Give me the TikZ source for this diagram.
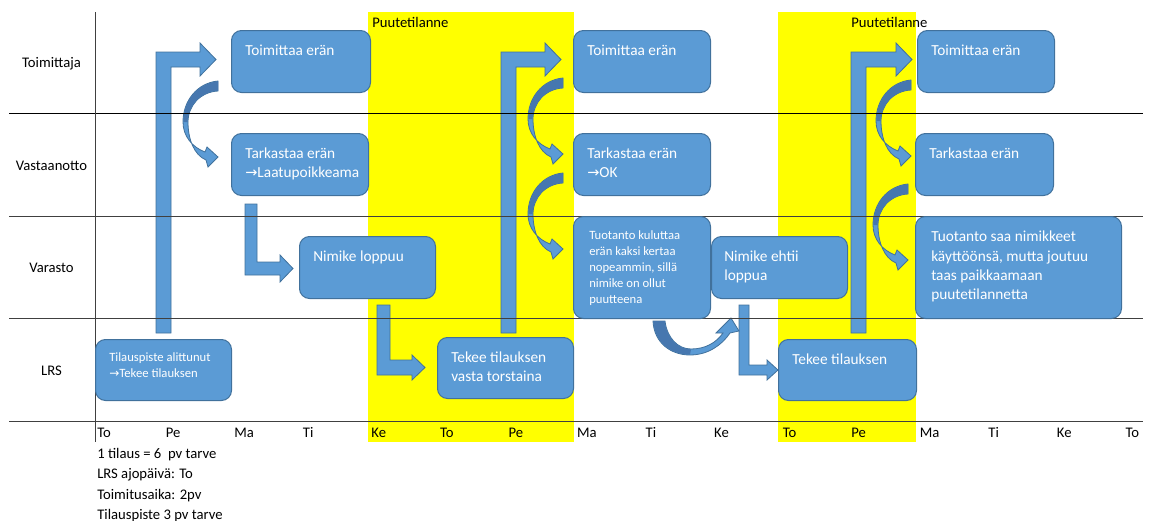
\documentclass[tikz,border=0pt]{standalone}
\usepackage{fontspec}
\setmainfont{Carlito}
\newfontfamily\arrowfont{DejaVu Sans}[Scale=0.95]
\newcommand\ar{{\arrowfont→}}
\definecolor{boxblue}{HTML}{5B9BD5}
\definecolor{boxedge}{HTML}{41719C}
\definecolor{darkarrow}{HTML}{4677AF}
\definecolor{band}{HTML}{FFFF00}
\definecolor{gridgray}{HTML}{404040}
\newcommand\mkbox[5]{\node[boxshape, minimum width={(#4-#2)*0.75pt}, minimum height={(#5-#3)*0.75pt}] (#1) at (#2,#3) {};}
\tikzset{
  boxshape/.style={draw=boxedge, fill=boxblue, line width=0.75pt, rounded corners=7.5pt, anchor=north west, inner sep=0pt},
  blockarrow/.style={draw=boxedge, fill=boxblue, line width=0.6pt, line join=miter},
  darkpart/.style={fill=darkarrow},
  btext/.style={anchor=north west, inner sep=0pt, text=white, align=left, font=\fontsize{11.5}{14.5}\selectfont},
  bsmall/.style={anchor=north west, inner sep=0pt, text=white, align=left, font=\fontsize{9.5}{12}\selectfont},
  rowlbl/.style={anchor=base, inner sep=0pt, font=\fontsize{11}{13}\selectfont},
  daylbl/.style={anchor=base west, inner sep=0pt, font=\fontsize{11}{13}\selectfont},
  notelbl/.style={anchor=base west, inner sep=0pt, font=\fontsize{11}{13}\selectfont},
  gridline/.style={draw=gridgray, line width=0.75pt},
  curvearrow/.pic={
    \path[blockarrow] (0,0) .. controls (-21,2) and (-35,20) .. (-35,41)
       .. controls (-35,55) and (-26,66) .. (-13,71) -- (-11,66) -- (0,76) -- (-10,86) -- (-12,79)
       .. controls (-24,74) and (-30,58) .. (-30,41)
       .. controls (-30,25) and (-18,11) .. (0,10) -- cycle;
    \path[darkpart] (0,0.4) .. controls (-21,2.4) and (-34.6,20) .. (-34.6,41) -- (-30.4,41)
       .. controls (-30.4,25) and (-18,11) .. (0,9.6) -- cycle;
  }
}
\begin{document}
\begin{tikzpicture}[x=0.75pt, y=-0.75pt]
\useasboundingbox (0,0) rectangle (1150,521);
% yellow bands
\fill[band] (368,12) rectangle (574,442);
\fill[band] (778,12) rectangle (916,442);
\node[notelbl] (pt1) at (372,27) {Puutetilanne};
\node[notelbl] (pt2) at (851,27) {Puutetilanne};

% bent arrows LRS -> Toimittaja
\path[blockarrow] (156,333) -- (156,52) -- (200,52) -- (200,43) -- (216,59.5) -- (200,76) -- (200,67) -- (171,67) -- (171,333) -- cycle;
\path[blockarrow] (501,333) -- (501,52) -- (545,52) -- (545,43) -- (561,59.5) -- (545,76) -- (545,67) -- (516,67) -- (516,333) -- cycle;
\path[blockarrow] (851,333) -- (851,52) -- (896,52) -- (896,43) -- (912,59.5) -- (896,76) -- (896,67) -- (866,67) -- (866,333) -- cycle;

% L arrows
\path[blockarrow] (245,204) -- (257,204) -- (257,262) -- (280,262) -- (280,255) -- (293,268.5) -- (280,282) -- (280,275) -- (245,275) -- cycle;
\path[blockarrow] (377,305) -- (390,305) -- (390,360) -- (412,360) -- (412,355) -- (425,367.5) -- (412,380) -- (412,375) -- (377,375) -- cycle;
\path[blockarrow] (739,305) -- (749,305) -- (749,365) -- (767,365) -- (767,360) -- (778,370) -- (767,380) -- (767,375) -- (739,375) -- cycle;

% curved arrows
\pic at (218,81) {curvearrow};
\pic at (563,78) {curvearrow};
\pic at (563,173) {curvearrow};
\pic at (911,80) {curvearrow};
\pic at (908,184) {curvearrow};

% U-shaped curved up arrow
\path[blockarrow] (653,321) .. controls (654,343) and (671,355) .. (690,355)
   .. controls (708,355) and (722,345) .. (730,333) -- (739,331) -- (731,318) -- (716,333) -- (723,333)
   .. controls (716,343) and (705,349) .. (691,349)
   .. controls (678,349) and (667,338) .. (665,321) -- cycle;
\path[darkpart] (653.4,321) .. controls (654.4,342.6) and (671,354.6) .. (690,354.6) -- (691,349.4)
   .. controls (678,349.4) and (666.6,338) .. (664.6,321) -- cycle;

% grid lines
\draw[line width=0.75pt, draw=black] (9,113) -- (1143,113);
\draw[gridline] (9,216) -- (1143,216);
\draw[gridline] (9,318) -- (1143,318);
\draw[gridline] (9,421) -- (1143,421);
\draw[gridline] (95,12) -- (95,442);

% row labels
\node[rowlbl] (r1) at (51.5,67) {Toimittaja};
\node[rowlbl] (r2) at (51.5,170) {Vastaanotto};
\node[rowlbl] (r3) at (51.5,272) {Varasto};
\node[rowlbl] (r4) at (51.5,375) {LRS};

% boxes
\mkbox{b1}{231}{30}{370}{92}
\mkbox{b2}{231}{133}{368}{195}
\mkbox{b3}{299}{236}{435}{298}
\mkbox{b4}{95}{339}{231}{400}
\mkbox{b5}{437}{337}{573}{398}
\mkbox{b6}{573}{30}{710}{92}
\mkbox{b7}{573}{133}{710}{195}
\mkbox{b8}{573}{216}{710}{318}
\mkbox{b9}{711}{236}{847}{298}
\mkbox{b10}{778}{339}{916}{400}
\mkbox{b11}{917}{30}{1054}{92}
\mkbox{b12}{915}{133}{1053}{195}
\mkbox{b13}{915}{216}{1121}{318}

% box texts
\node[btext] (t1) at ([shift={(14,14.5)}]b1.north west) {Toimittaa erän};
\node[btext] (t2) at ([shift={(14,14.5)}]b2.north west) {Tarkastaa erän\\\ar Laatupoikkeama};
\node[btext] (t3) at ([shift={(14,14.5)}]b3.north west) {Nimike loppuu};
\node[bsmall] (t4) at ([shift={(14,13)}]b4.north west) {Tilauspiste alittunut\\\ar Tekee tilauksen};
\node[btext] (t5) at ([shift={(14,14.5)}]b5.north west) {Tekee tilauksen\\vasta torstaina};
\node[btext] (t6) at ([shift={(14,14.5)}]b6.north west) {Toimittaa erän};
\node[btext] (t7) at ([shift={(14,14.5)}]b7.north west) {Tarkastaa erän\\\ar OK};
\node[bsmall] (t8) at ([shift={(16,14)}]b8.north west) {Tuotanto kuluttaa\\erän kaksi kertaa\\nopeammin, sillä\\nimike on ollut\\puutteena};
\node[btext] (t9) at ([shift={(13,14.5)}]b9.north west) {Nimike ehtii\\loppua};
\node[btext] (t10) at ([shift={(14,14.5)}]b10.north west) {Tekee tilauksen};
\node[btext] (t11) at ([shift={(14,14.5)}]b11.north west) {Toimittaa erän};
\node[btext] (t12) at ([shift={(14,14.5)}]b12.north west) {Tarkastaa erän};
\node[btext] (t13) at ([shift={(16,15)}]b13.north west) {Tuotanto saa nimikkeet\\käyttöönsä, mutta joutuu\\taas paikkaamaan\\puutetilannetta};

% day labels
\foreach \d [count=\i from 0] in {To,Pe,Ma,Ti,Ke,To,Pe,Ma,Ti,Ke,To,Pe,Ma,Ti,Ke,To}
  \node[daylbl] (d\i) at (97+68.55*\i,437) {\d};

% notes
\node[notelbl] (n1) at (97,458) {1 tilaus = 6\ \ pv tarve};
\node[notelbl] (n2) at (97,478.5) {LRS ajopäivä: To};
\node[notelbl] (n3) at (97,499) {Toimitusaika: 2pv};
\node[notelbl] (n4) at (97,519) {Tilauspiste 3 pv tarve};
\end{tikzpicture}
\end{document}
